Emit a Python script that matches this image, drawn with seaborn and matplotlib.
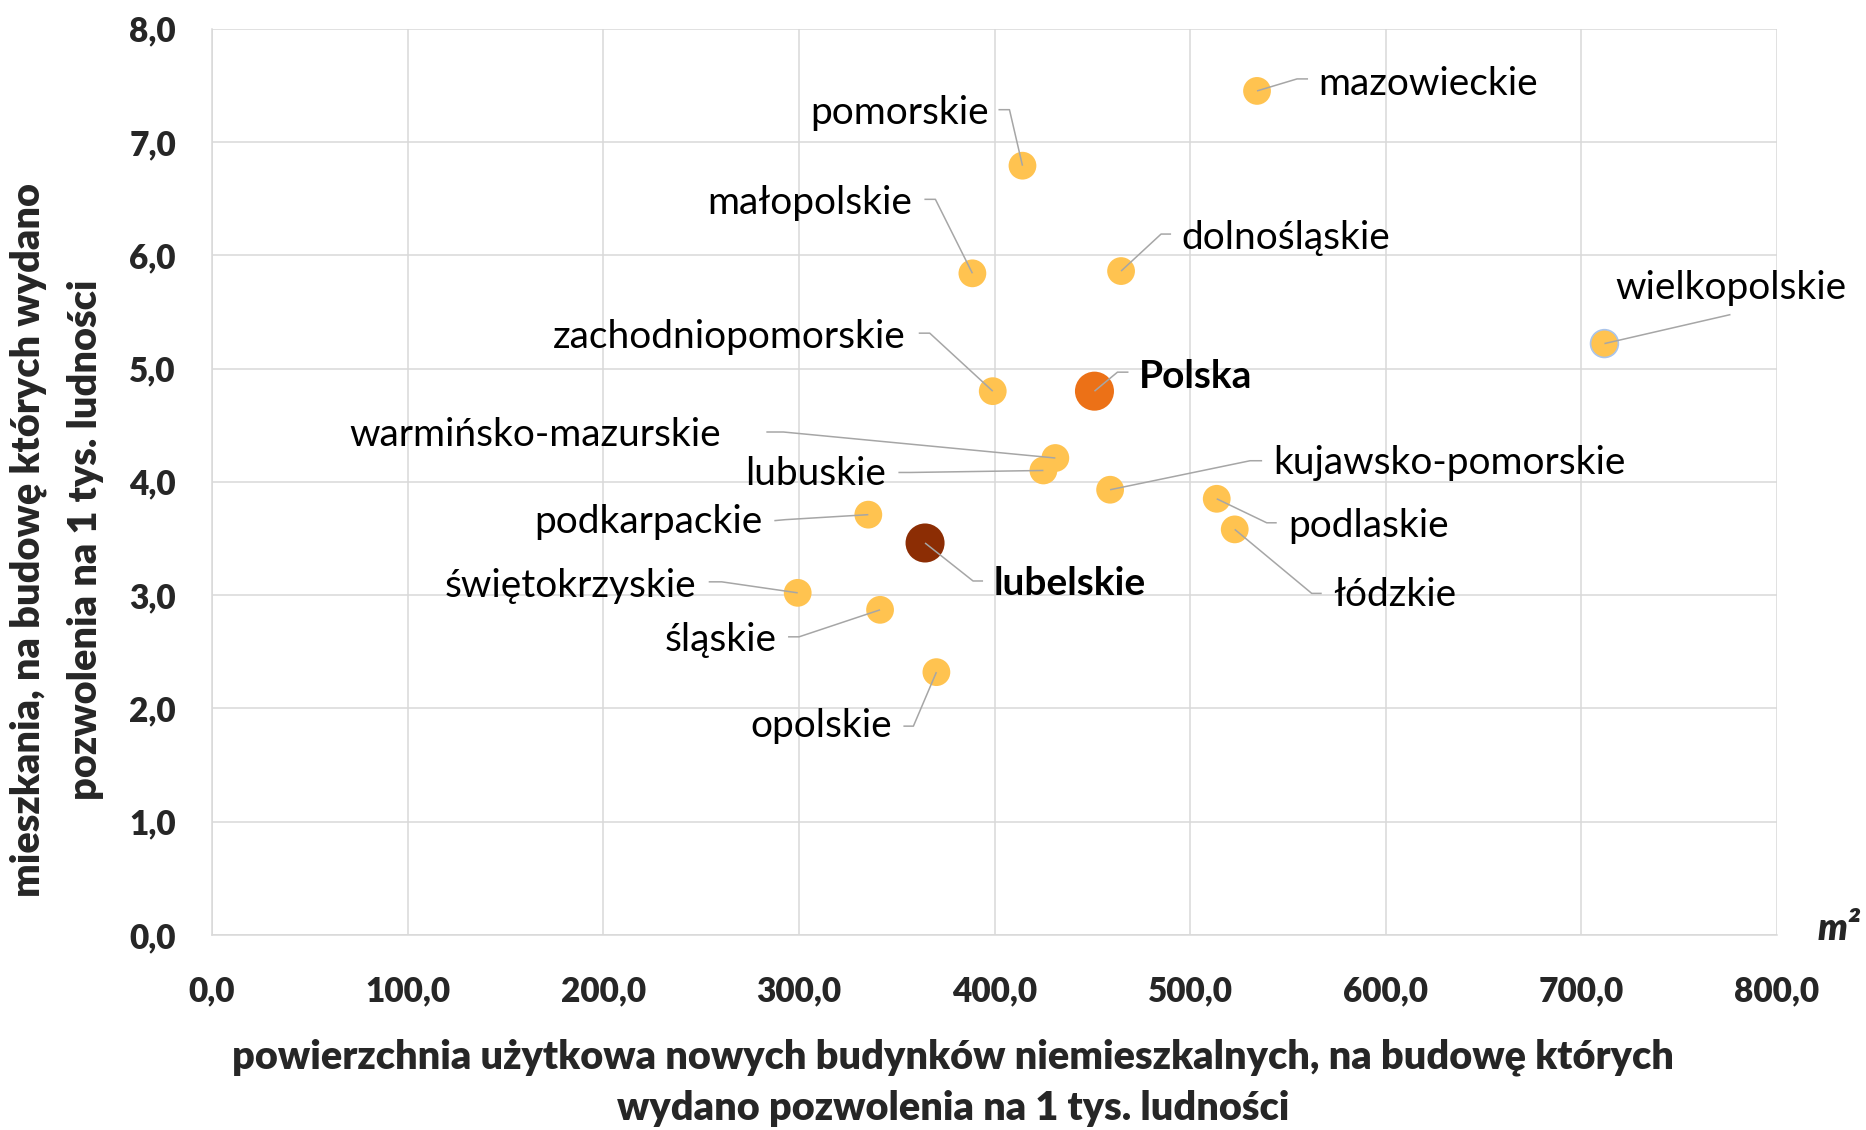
import pandas as pd
import matplotlib
matplotlib.use("Agg")
import matplotlib.pyplot as plt
import seaborn as sns

# region values
regions = ["mazowieckie", "pomorskie", "małopolskie", "dolnośląskie", "wielkopolskie",
           "zachodniopomorskie", "Polska", "warmińsko-mazurskie", "lubuskie",
           "kujawsko-pomorskie", "podkarpackie", "lubelskie", "podlaskie", "łódzkie",
           "świętokrzyskie", "śląskie", "opolskie"]
area_m2 = [534.2, 414.3, 388.7, 464.7, 711.8, 399.1, 451.1, 431.1, 425.0,
           459.1, 335.5, 364.5, 513.6, 522.8, 299.4, 341.5, 370.3]
dwellings = [7.45, 6.79, 5.84, 5.86, 5.22, 4.80, 4.80, 4.21, 4.10,
             3.93, 3.71, 3.46, 3.85, 3.58, 3.02, 2.87, 2.32]

x_ticks = [0, 100, 200, 300, 400, 500, 600, 700, 800]
y_ticks = [0, 1, 2, 3, 4, 5, 6, 7, 8]

df = pd.DataFrame({"region": regions, "x": area_m2, "y": dwellings})
df["group"] = df["region"].map(lambda r: r if r in ("Polska", "lubelskie") else "inne")

palette = {"inne": "#FFC350", "Polska": "#EC7117", "lubelskie": "#8C2D04"}
sizes = {"inne": 400, "Polska": 790, "lubelskie": 790}

# label layout: text anchor, leader end, leader elbow (pixel offsets from point, y down)
label_layout = {
    "mazowieckie":         ("left",  (61, 4),      (51, -12),     (40, -12)),
    "pomorskie":           ("right", (-34, -42),   (-24, -56),    (-13, -56)),
    "małopolskie":         ("right", (-60, -59),   (-48, -74),    (-37, -74)),
    "dolnośląskie":        ("left",  (60, -22),    (50, -37),     (40, -37)),
    "wielkopolskie":       ("left",  (11, -45),    (126, -29),    (126, -29)),
    "zachodniopomorskie":  ("right", (-87, -43),   (-74, -58),    (-63, -58)),
    "Polska":              ("left",  (44, -3),     (34, -19),     (23, -19)),
    "warmińsko-mazurskie": ("right", (-334, -12),  (-289, -26),   (-272, -26)),
    "lubuskie":            ("right", (-157, 15),   (-145, 2),     (-133, 2)),
    "kujawsko-pomorskie":  ("left",  (163, -16),   (152, -29),    (140, -29)),
    "podkarpackie":        ("right", (-106, 18),   (-94, 6),      (-83, 5)),
    "lubelskie":           ("left",  (69, 52),     (58, 38),      (48, 38)),
    "podlaskie":           ("left",  (72, 38),     (60, 24),      (50, 24)),
    "łódzkie":             ("left",  (98, 77),     (87, 64),      (77, 64)),
    "świętokrzyskie":      ("right", (-101, 4),    (-89, -11),    (-76, -11)),
    "śląskie":             ("right", (-103, 41),   (-92, 27),     (-81, 27)),
    "opolskie":            ("right", (-44, 65),    (-33, 54),     (-23, 54)),
}

sns.set_theme(style="white")
plt.rcParams["font.family"] = ["Lato", "DejaVu Sans"]

W, H = 1866, 1130
fig = plt.figure(figsize=(W / 100, H / 100), dpi=100)
ax = fig.add_axes([212 / W, 1 - 935 / H, 1565 / W, 906.4 / H])

sns.scatterplot(data=df, x="x", y="y", hue="group", size="group", palette=palette,
                sizes=sizes, linewidth=0, legend=False, ax=ax, zorder=3)
wk = df[df["region"] == "wielkopolskie"]
ax.scatter(wk["x"], wk["y"], s=400, facecolor="none", edgecolor="#A9C4EB", linewidth=1.2, zorder=4)

ax.set_xlim(0, 800)
ax.set_ylim(0, 8)
ax.set_xticks(x_ticks)
ax.set_yticks(y_ticks)
ax.set_xticklabels([f"{v:.1f}".replace(".", ",") for v in x_ticks], fontsize=24, fontweight="heavy")
ax.set_yticklabels([f"{v:.1f}".replace(".", ",") for v in y_ticks], fontsize=24, fontweight="heavy")
ax.tick_params(axis="x", length=0, pad=29)
ax.tick_params(axis="y", length=0, pad=26)
ax.grid(True, color="#D9D9D9", linewidth=1.1)
ax.set_axisbelow(True)
for side in ["top", "right"]:
    ax.spines[side].set_visible(False)
for side in ["left", "bottom"]:
    ax.spines[side].set_color("#D9D9D9")
    ax.spines[side].set_linewidth(1.1)
ax.set_xlabel("")
ax.set_ylabel("")

# pixel -> data scale
sx = 1565 / 800
sy = 906.4 / 8

for _, row in df.iterrows():
    ha, txt, end, elbow = label_layout[row["region"]]
    bold = row["region"] in ("Polska", "lubelskie")
    px, py = row["x"], row["y"]
    ax.plot([px, px + elbow[0] / sx, px + end[0] / sx],
            [py, py - elbow[1] / sy, py - end[1] / sy],
            color="#A6A6A6", linewidth=1.1, zorder=5, solid_capstyle="butt")
    ax.annotate(row["region"], xy=(px, py), xytext=(txt[0], -txt[1]),
                textcoords="offset pixels", ha=ha, va="baseline",
                fontsize=28, fontweight="bold" if bold else "normal",
                color="black", zorder=6, annotation_clip=False)

# axis titles
fig.text(953 / W, 1 - 1069 / H,
         "powierzchnia użytkowa nowych budynków niemieszkalnych, na budowę których",
         ha="center", va="baseline", fontsize=28.5, fontweight="heavy")
fig.text(953 / W, 1 - 1120 / H, "wydano pozwolenia na 1 tys. ludności",
         ha="center", va="baseline", fontsize=28.5, fontweight="heavy")
fig.text(40 / W, 1 - 540 / H, "mieszkania, na budowę których wydano",
         rotation=90, rotation_mode="anchor", ha="center", va="baseline",
         fontsize=28.5, fontweight="heavy")
fig.text(97 / W, 1 - 540 / H, "pozwolenia na 1 tys. ludności",
         rotation=90, rotation_mode="anchor", ha="center", va="baseline",
         fontsize=28.5, fontweight="heavy")
fig.text(1818 / W, 1 - 940 / H, "m²", ha="left", va="baseline",
         fontsize=27, fontweight="heavy", fontstyle="italic")

fig.savefig("out.png", dpi=100)
